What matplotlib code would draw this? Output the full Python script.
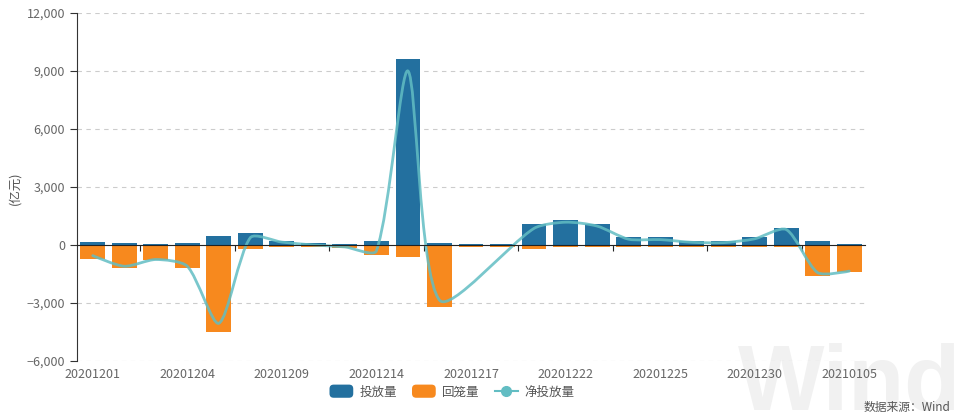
import numpy as np
import matplotlib
matplotlib.use("Agg")
import matplotlib.pyplot as plt
import matplotlib.ticker as mticker
from matplotlib.path import Path
from matplotlib.patches import PathPatch, FancyBboxPatch, Patch
from matplotlib.lines import Line2D
from matplotlib.legend_handler import HandlerPatch

plt.rcParams['font.family'] = ['Noto Sans CJK SC', 'DejaVu Sans']

# --------------------------
# data (亿元)
# --------------------------
dates = ['20201201', '20201202', '20201203', '20201204', '20201207', '20201208',
         '20201209', '20201210', '20201211', '20201214', '20201215', '20201216',
         '20201217', '20201218', '20201221', '20201222', '20201223', '20201224',
         '20201225', '20201228', '20201229', '20201230', '20201231', '20210104',
         '20210105']
inject = [170, 100, 50, 100, 450, 600, 200, 100, 50, 200, 9600, 100,
          50, 50, 1100, 1300, 1100, 400, 400, 200, 200, 400, 900, 200, 50]
withdraw = [-700, -1200, -800, -1200, -4500, -200, -100, -100, -150, -500, -600, -3200,
            -100, -100, -200, -100, -100, -100, -100, -100, -100, -100, -100, -1600, -1400]
net = [-550, -1100, -750, -1100, -4050, 380, 150, 0, -100, -300, 9000, -2850,
       None, None, 860, 1180, 980, 300, 280, 140, 120, 320, 800, -1430, -1350]
label_dates = dates[::3]

C_BLUE = '#23709f'
C_ORANGE = '#f7891e'
C_LINE = '#62bdc3'
C_TEXT = '#666666'


def smooth_path(ax, xs, ys, smooth=0.25):
    # light bezier smoothing through the points, computed in pixel space
    pts = ax.transData.transform(np.column_stack([xs, ys]))
    n = len(pts)
    cin, cout = pts.copy(), pts.copy()
    for i in range(1, n - 1):
        v = pts[i + 1] - pts[i - 1]
        d0 = np.hypot(*(pts[i] - pts[i - 1]))
        d1 = np.hypot(*(pts[i + 1] - pts[i]))
        s = d0 + d1
        cin[i] = pts[i] - v * (d0 / s) * smooth
        cout[i] = pts[i] + v * (d1 / s) * smooth
    verts = [pts[0]]
    codes = [Path.MOVETO]
    for i in range(n - 1):
        verts += [cout[i], cin[i + 1], pts[i + 1]]
        codes += [Path.CURVE4] * 3
    verts = ax.transData.inverted().transform(np.array(verts))
    return Path(verts, codes)


class RoundBoxHandler(HandlerPatch):
    def create_artists(self, legend, orig_handle, xdescent, ydescent,
                       width, height, fontsize, trans):
        p = FancyBboxPatch((-xdescent, -ydescent - 1), width, height + 2,
                           boxstyle="round,pad=0,rounding_size=3",
                           facecolor=orig_handle.get_facecolor(), edgecolor='none',
                           transform=trans)
        return [p]


fig = plt.figure(figsize=(9.55, 4.15), dpi=100)
ax = fig.add_axes([77 / 955, 1 - 361 / 415, 788 / 955, 348 / 415])
ax.set_facecolor('none')

x = np.arange(len(dates))
ax.bar(x, inject, width=0.79, color=C_BLUE, zorder=2)
ax.bar(x, withdraw, width=0.79, color=C_ORANGE, zorder=2)

ax.set_xlim(-0.5, len(dates) - 0.5)
ax.set_ylim(-6000, 12000)
ax.yaxis.set_major_locator(mticker.MultipleLocator(3000))
ax.yaxis.set_major_formatter(mticker.StrMethodFormatter('{x:,.0f}'))

# net line (null days are skipped and joined)
nx = [xi for xi, v in zip(x, net) if v is not None]
ny = [v for v in net if v is not None]
ax.add_patch(PathPatch(smooth_path(ax, nx, ny), facecolor='none', edgecolor=C_LINE,
                       lw=2, alpha=0.85, zorder=3, capstyle='round', joinstyle='round'))

# grid + spines
ax.grid(axis='y', color='#cccccc', linestyle=(0, (4, 4)), lw=0.8, zorder=0)
for s in ['top', 'right']:
    ax.spines[s].set_visible(False)
ax.spines['left'].set_color('#333333')
ax.spines['bottom'].set_position(('data', 0))
ax.spines['bottom'].set_color('#222222')
ax.spines['bottom'].set_zorder(4)
ax.tick_params(axis='y', colors='#333333', labelcolor=C_TEXT, labelsize=9, length=5)

# x axis: small ticks at the zero line, labels at the bottom
ax.set_xticks(np.arange(2, len(dates), 3) - 0.5)
ax.tick_params(axis='x', length=4, color='#222222', labelbottom=False)
sec = ax.secondary_xaxis('bottom')
sec.set_xticks(x[::3], label_dates)
sec.spines['bottom'].set_visible(False)
sec.tick_params(length=0, pad=5, labelsize=9, labelcolor=C_TEXT)

fig.text(15 / 955, 1 - 188 / 415, '(亿元)', rotation=90, ha='center', va='center',
         fontsize=9, color='#555555')

handles = [Patch(facecolor=C_BLUE, label='投放量'),
           Patch(facecolor=C_ORANGE, label='回笼量'),
           Line2D([], [], color=C_LINE, lw=1.5, marker='o', markersize=7, label='净投放量')]
fig.legend(handles=handles, loc='center', bbox_to_anchor=(452 / 955, 1 - 392 / 415),
           ncol=3, frameon=False, fontsize=9, handlelength=1.9, handleheight=0.9,
           columnspacing=1.2, handletextpad=0.5, labelcolor='#555555',
           handler_map={Patch: RoundBoxHandler()})

fig.text(0.995, 8 / 415, '数据来源：Wind', ha='right', va='center', fontsize=8.5,
         color='#555555')
fig.text(738 / 955, -14 / 415, 'Wind', ha='left', va='bottom', fontsize=66,
         fontweight='bold', family='Liberation Sans', color='#f1f1f1', zorder=-1)

fig.savefig('out.png', dpi=100)
